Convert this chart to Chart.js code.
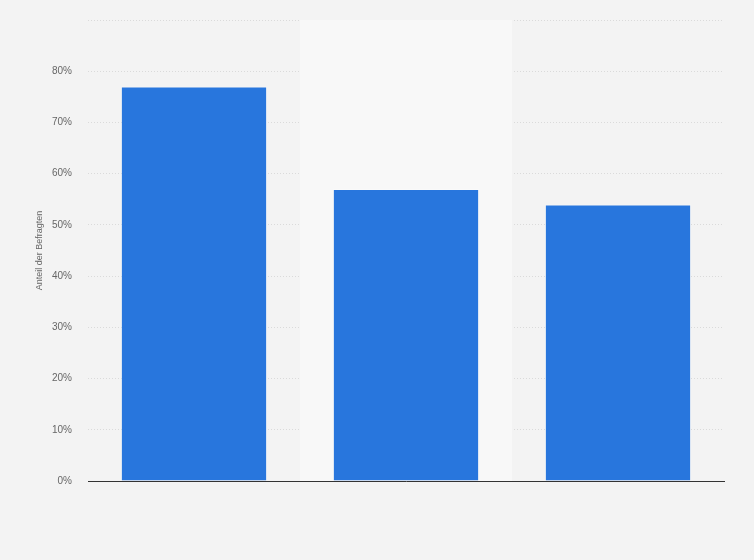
<!DOCTYPE html>
<html>
<head>
<meta charset="utf-8">
<script src="https://cdn.jsdelivr.net/npm/chart.js@4.4.1/dist/chart.umd.min.js"></script>
<style>
  html, body { margin: 0; padding: 0; background: #f3f3f3; }
  #wrap { width: 754px; height: 560px; position: relative; }
</style>
</head>
<body>
<div id="wrap"><canvas id="c"></canvas></div>
<script>
  var categories = ['Kategorie 1', 'Kategorie 2', 'Kategorie 3'];
  var shares = [77, 57, 54];
  var yTicks = [0, 10, 20, 30, 40, 50, 60, 70, 80, 90];

  /* lighter band behind the middle category */
  var bandPlugin = {
    id: 'band',
    beforeDatasetsDraw: function(chart) {
      var ctx = chart.ctx, x = chart.scales.x, a = chart.chartArea;
      var step = (a.right - a.left) / categories.length;
      ctx.save();
      ctx.fillStyle = '#f8f8f8';
      ctx.fillRect(x.getPixelForValue(1) - step / 2, a.top, step, a.bottom - a.top);
      ctx.restore();
    }
  };

  new Chart(document.getElementById('c'), {
    type: 'bar',
    data: {
      labels: categories,
      datasets: [{
        data: shares,
        backgroundColor: '#2876dd',
        borderColor: 'rgba(255,255,255,0.35)',
        borderWidth: 1,
        categoryPercentage: 1,
        barPercentage: 0.69
      }]
    },
    plugins: [bandPlugin],
    options: {
      responsive: true,
      maintainAspectRatio: false,
      animation: false,
      layout: { padding: { left: 0, right: 30, top: 20, bottom: 79 } },
      plugins: { legend: { display: false }, tooltip: { enabled: false } },
      scales: {
        x: {
          afterFit: function(s) { s.height = 0; },
          ticks: { display: false },
          grid: { display: false },
          border: { display: true, color: '#333', width: 1 }
        },
        y: {
          min: 0,
          max: 90,
          afterFit: function(s) { s.width = 88; s.paddingTop = 0; s.paddingBottom = 0; },
          afterBuildTicks: function(s) { s.ticks = yTicks.map(function(v) { return { value: v }; }); },
          ticks: {
            padding: 16,
            color: '#666',
            font: { family: 'Arial, "Liberation Sans", sans-serif', size: 10 },
            callback: function(v) { return v === 90 ? '' : v + '%'; }
          },
          grid: { color: '#dadada', drawTicks: false, tickLength: 0 },
          border: { display: false, dash: [1, 2] },
          title: {
            display: true,
            text: 'Anteil der Befragten',
            color: '#666',
            font: { family: 'Arial, "Liberation Sans", sans-serif', size: 9 },
            padding: { top: 34, bottom: 0 }
          }
        }
      }
    }
  });
</script>
</body>
</html>
